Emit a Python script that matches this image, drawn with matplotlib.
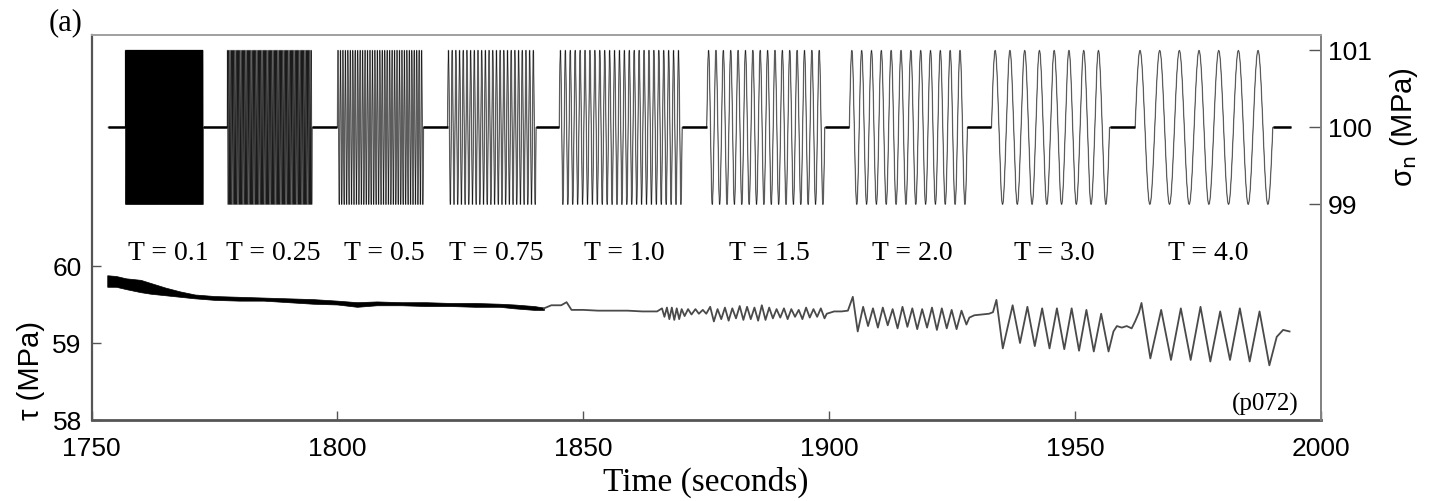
import numpy as np
import matplotlib
matplotlib.use("Agg")
import matplotlib.pyplot as plt
import matplotlib.transforms as mtransforms

# ---------------- data ----------------
# normal-stress oscillation blocks (sigma_n = 100 +/- 1 MPa, period T)
periods = [0.1, 0.25, 0.5, 0.75, 1.0, 1.5, 2.0, 3.0, 4.0]
period_labels = ["T = 0.1", "T = 0.25", "T = 0.5", "T = 0.75", "T = 1.0",
                 "T = 1.5", "T = 2.0", "T = 3.0", "T = 4.0"]
block_start = [1756.9, 1777.6, 1800.0, 1822.4, 1845.1, 1875.1, 1904.1, 1933.0, 1962.2]
block_cycles = [158, 69, 35, 24, 25, 16, 12, 8, 7]
sigma_mean = 100.0
sigma_amp = 1.0
sigma_t_begin = 1753.4
sigma_t_end = 1993.9

# shear stress: early thick trace (upper / lower envelope)
band_t = [1753.2, 1755, 1757, 1760, 1762, 1765, 1768, 1771, 1775, 1780, 1785, 1790,
          1795, 1800, 1804, 1808, 1813, 1818, 1823, 1828, 1833, 1836, 1840, 1842]
band_hi = [59.88, 59.87, 59.84, 59.82, 59.78, 59.72, 59.67, 59.63, 59.61, 59.60, 59.59, 59.58,
           59.57, 59.55, 59.53, 59.54, 59.53, 59.53, 59.52, 59.52, 59.51, 59.50, 59.48, 59.46]
band_lo = [59.73, 59.73, 59.70, 59.66, 59.64, 59.62, 59.60, 59.58, 59.56, 59.55, 59.55, 59.53,
           59.51, 59.50, 59.47, 59.49, 59.49, 59.48, 59.48, 59.47, 59.47, 59.45, 59.43, 59.43]

# shear stress: later trace, explicit points
tau_a_t = [1842, 1843.5, 1845.5, 1846.6, 1847.6, 1850, 1853, 1856, 1859, 1862, 1865,
           1866.0, 1866.5, 1867.0, 1867.5, 1868.0, 1868.5, 1869.0, 1869.5, 1870.0,
           1870.6, 1871.3, 1872.0, 1872.8, 1873.5, 1874.3, 1875.0]
tau_a_v = [59.45, 59.49, 59.49, 59.53, 59.43, 59.43, 59.42, 59.42, 59.42, 59.41, 59.41,
           59.45, 59.34, 59.46, 59.31, 59.46, 59.30, 59.45, 59.31, 59.44,
           59.35, 59.44, 59.37, 59.44, 59.38, 59.43, 59.38]
# T = 1.5 response (alternating peak / trough every half period)
tau_c_start, tau_c_step = 1875.8, 0.75
tau_c_peaks = [59.47, 59.44, 59.46, 59.45, 59.48, 59.47, 59.46, 59.49,
               59.46, 59.44, 59.45, 59.44, 59.43, 59.46, 59.44, 59.45]
tau_c_troughs = [59.28, 59.31, 59.29, 59.32, 59.30, 59.31, 59.29, 59.30,
                 59.32, 59.33, 59.31, 59.34, 59.31, 59.33, 59.34, 59.32]
tau_d_t = [1899.5, 1901.0, 1902.5, 1903.8, 1904.8, 1905.8]
tau_d_v = [59.38, 59.41, 59.41, 59.42, 59.60, 59.15]
# T = 2 response
tau_e_start, tau_e_step = 1906.9, 1.0
tau_e_peaks = [59.47, 59.45, 59.46, 59.44, 59.47, 59.45, 59.44, 59.46, 59.45, 59.43, 59.42]
tau_e_troughs = [59.22, 59.20, 59.23, 59.19, 59.21, 59.18, 59.20, 59.17, 59.19, 59.18, 59.24]
tau_f_t = [1928.5, 1929.5, 1931.0, 1932.5, 1933.3, 1934.0, 1935.3]
tau_f_v = [59.33, 59.36, 59.37, 59.38, 59.40, 59.56, 58.93]
# T = 3 response
tau_g_start, tau_g_step = 1937.3, 1.5
tau_g_peaks = [59.49, 59.47, 59.45, 59.45, 59.45, 59.43, 59.38]
tau_g_troughs = [59.00, 58.96, 58.93, 58.92, 58.90, 58.89, 58.89]
tau_h_t = [1957.8, 1958.5, 1959.5, 1960.5, 1961.5, 1962.2, 1963.0, 1963.5, 1965.3]
tau_h_v = [59.15, 59.22, 59.20, 59.22, 59.19, 59.28, 59.40, 59.52, 58.80]
# T = 4 response
tau_i_start, tau_i_step = 1967.5, 2.0
tau_i_peaks = [59.43, 59.45, 59.47, 59.41, 59.45, 59.41]
tau_i_troughs = [58.78, 58.78, 58.76, 58.78, 58.76, 58.71]
tau_j_t = [1991.0, 1992.3, 1993.6]
tau_j_v = [59.08, 59.17, 59.15]

x_ticks = [1750, 1800, 1850, 1900, 1950, 2000]
tau_ticks = [58, 59, 60]
sigma_ticks = [99, 100, 101]

# ---------------- build series ----------------
def alternate(start, step, peaks, troughs):
    vals = []
    for p, q in zip(peaks, troughs):
        vals += [p, q]
    ts = [start + step * k for k in range(len(vals))]
    return ts, vals

tc_t, tc_v = alternate(tau_c_start, tau_c_step, tau_c_peaks, tau_c_troughs)
te_t, te_v = alternate(tau_e_start, tau_e_step, tau_e_peaks, tau_e_troughs)
tg_t, tg_v = alternate(tau_g_start, tau_g_step, tau_g_peaks, tau_g_troughs)
ti_t, ti_v = alternate(tau_i_start, tau_i_step, tau_i_peaks, tau_i_troughs)

tau_t = tau_a_t + tc_t + tau_d_t + te_t + tau_f_t + tg_t + tau_h_t + ti_t + tau_j_t
tau_v = tau_a_v + tc_v + tau_d_v + te_v + tau_f_v + tg_v + tau_h_v + ti_v + tau_j_v

sig_t = [np.array([sigma_t_begin])]
sig_v = [np.array([sigma_mean])]
block_end = []
for T, t0, n in zip(periods, block_start, block_cycles):
    tt = t0 + np.linspace(0, n * T, n * 40 + 1)
    sig_t.append(tt)
    sig_v.append(sigma_mean + sigma_amp * np.sin(2 * np.pi * (tt - t0) / T))
    block_end.append(t0 + n * T)
sig_t.append(np.array([sigma_t_end]))
sig_v.append(np.array([sigma_mean]))
sig_t = np.concatenate(sig_t)
sig_v = np.concatenate(sig_v)

# ---------------- figure ----------------
W, H = 1441, 501
fig = plt.figure(figsize=(W / 100, H / 100), dpi=100)
L, R, B, Tp = 91.5, 1321, 420, 35
ax = fig.add_axes([L / W, 1 - B / H, (R - L) / W, (B - Tp) / H])
ax2 = ax.twinx()

sans = "Liberation Sans"
serif = "Liberation Serif"
spine_dark = "#555555"
spine_light = "#a0a0a0"

# shear stress
ax.fill_between(band_t, band_lo, band_hi, color="black", lw=0.5, edgecolor="black")
ax.plot(tau_t, tau_v, color="#4a4a4a", lw=1.3)

# normal stress (grey trace with a fine dark core, so dense blocks turn dark)
ax2.plot(sig_t, sig_v, color="#a0a0a0", lw=1.0)
ax2.plot(sig_t, sig_v, color="black", lw=0.3)
gap_from = [sigma_t_begin] + block_end
gap_to = block_start + [sigma_t_end]
ax2.hlines([sigma_mean] * len(gap_from), gap_from, gap_to, color="black", lw=1.8)

ax.set_xlim(1750, 2000)
ax.set_ylim(58, 63)
ax2.set_ylim(96.2, 101.2)
ax.set_xticks(x_ticks)
ax.set_yticks(tau_ticks)
ax2.set_yticks(sigma_ticks)

for a in (ax, ax2):
    a.tick_params(direction="in", length=6.5, width=1.0, color=spine_dark,
                  labelsize=19, labelcolor="black")
ax.tick_params(axis="x", pad=12)
ax.tick_params(axis="y", pad=7)
ax2.tick_params(axis="y", pad=5, length=8.5)
for lab in ax.get_xticklabels() + ax.get_yticklabels() + ax2.get_yticklabels():
    lab.set_fontfamily(sans)

for s in ("top", "right"):
    ax.spines[s].set_visible(False)
for s in ("left", "bottom"):
    ax2.spines[s].set_visible(False)
ax.spines["left"].set_color(spine_dark)
ax.spines["left"].set_linewidth(1.6)
ax.spines["bottom"].set_color(spine_dark)
ax.spines["bottom"].set_linewidth(2.0)
ax2.spines["right"].set_color("#808080")
ax2.spines["right"].set_linewidth(1.4)
ax2.spines["top"].set_color(spine_light)
ax2.spines["top"].set_linewidth(1.4)

# period labels
trans = mtransforms.blended_transform_factory(ax.transData, ax.transAxes)
for lab, t0, T, n in zip(period_labels, block_start, periods, block_cycles):
    ax.text(t0 + n * T / 2 + 0.8, 0.432, lab, transform=trans, ha="center", va="center",
            fontsize=20, family=serif, color="black")

ax.text(0.982, 0.04, "(p072)", transform=ax.transAxes, ha="right", va="center",
        fontsize=18, family=serif, color="black")

fig.text(706 / W, 1 - 482 / H, "Time (seconds)", ha="center", va="center",
         fontsize=24, family=serif)
fig.text(31 / W, 1 - 371 / H, "τ (MPa)", ha="center", va="center", rotation=90,
         fontsize=21, family=sans)
fig.text(1404 / W, 1 - 127 / H, r"σ$_{\mathrm{n}}$ (MPa)", ha="center", va="center",
         rotation=90, fontsize=21, family=sans)
fig.text(66 / W, 1 - 23 / H, "(a)", ha="center", va="center", fontsize=22, family=serif)

fig.savefig("out.png", dpi=100)
